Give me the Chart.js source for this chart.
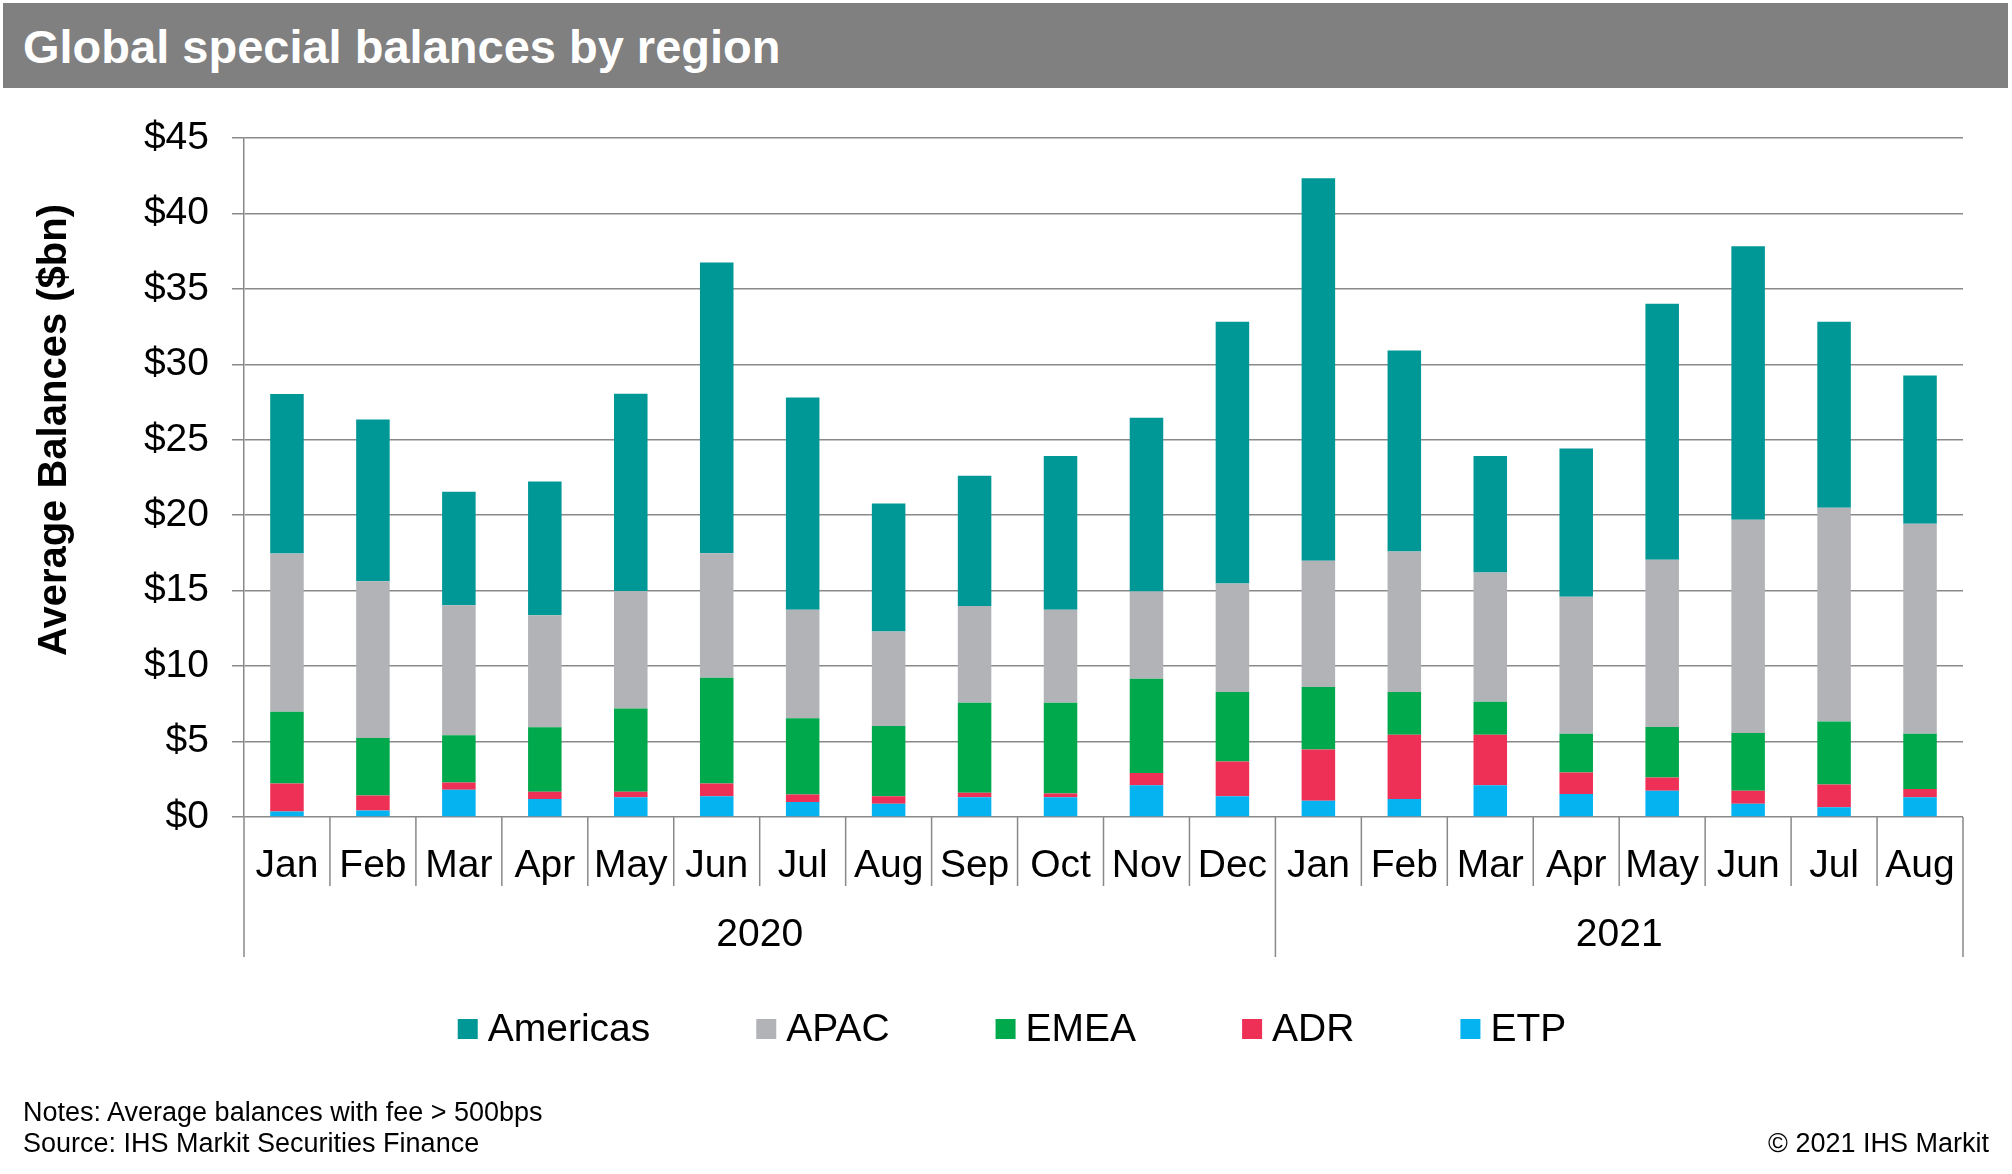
<!DOCTYPE html>
<html>
<head>
<meta charset="utf-8">
<script src="https://cdn.jsdelivr.net/npm/chart.js@4.4.0/dist/chart.umd.min.js"></script>
<style>
  body { margin: 0; background: #fff; font-family: "Liberation Sans", Arial, sans-serif; }
  #wrap { position: relative; width: 2012px; height: 1174px; overflow: hidden; }
  #title { position: absolute; left: 3px; top: 3px; width: 2005px; height: 85px; background: #808080;
           color: #fff; font-weight: bold; font-size: 47px; line-height: 88px; padding-left: 20px; box-sizing: border-box; }
  canvas { position: absolute; left: 0; top: 0; }
  .note { position: absolute; font-size: 27px; color: #000; white-space: nowrap; line-height: 31px; }
</style>
</head>
<body>
<div id="wrap">
  <canvas id="chart" width="2012" height="1174"></canvas>
  <div id="title">Global special balances by region</div>
  <div class="note" style="left:23px; top:1097px;">Notes: Average balances with fee &gt; 500bps</div>
  <div class="note" style="left:23px; top:1128px;">Source: IHS Markit Securities Finance</div>
  <div class="note" style="right:23px; top:1128px;">© 2021 IHS Markit</div>
</div>
<script>
// categories
const months = ['Jan', 'Feb', 'Mar', 'Apr', 'May', 'Jun', 'Jul', 'Aug', 'Sep', 'Oct', 'Nov', 'Dec',
                'Jan', 'Feb', 'Mar', 'Apr', 'May', 'Jun', 'Jul', 'Aug'];
const years = ['2020', '2020', '2020', '2020', '2020', '2020', '2020', '2020', '2020', '2020', '2020', '2020',
               '2021', '2021', '2021', '2021', '2021', '2021', '2021', '2021'];

// series values ($bn)
const etp      = [0.37, 0.43, 1.80, 1.19, 1.31, 1.37, 1.00, 0.88, 1.31, 1.31, 2.10, 1.37, 1.07, 1.19, 2.10, 1.52, 1.74, 0.88, 0.64, 1.31];
const adr      = [1.85, 1.00, 0.48, 0.48, 0.36, 0.85, 0.49, 0.49, 0.30, 0.24, 0.82, 2.31, 3.41, 4.26, 3.35, 1.43, 0.88, 0.86, 1.52, 0.55];
const emea     = [4.75, 3.81, 3.14, 4.27, 5.52, 7.01, 5.06, 4.66, 5.97, 6.03, 6.25, 4.60, 4.14, 2.83, 2.19, 2.56, 3.35, 3.83, 4.17, 3.65];
const apac     = [10.50, 10.38, 8.62, 7.43, 7.79, 8.25, 7.18, 6.27, 6.40, 6.15, 5.78, 7.19, 8.37, 9.32, 8.56, 9.08, 11.08, 14.13, 14.16, 13.92];
const americas = [10.57, 10.72, 7.52, 8.86, 13.07, 19.27, 14.07, 8.47, 8.64, 10.20, 11.51, 17.36, 25.34, 13.31, 7.73, 9.83, 16.96, 18.12, 12.34, 9.83];

// axis
const yMin = 0, yMax = 45, yStep = 5;

const FONT = '"Liberation Sans", Arial, sans-serif';
const GRID = '#898989';

// stacked bottom-up: ETP, ADR, EMEA, APAC, Americas
const series = [
  { label: 'ETP', data: etp, color: '#05B3F0' },
  { label: 'ADR', data: adr, color: '#EE3056' },
  { label: 'EMEA', data: emea, color: '#00A94C' },
  { label: 'APAC', data: apac, color: '#B2B3B6' },
  { label: 'Americas', data: americas, color: '#009797' }
];

const extras = {
  id: 'extras',
  afterDraw(chart) {
    const { ctx, chartArea } = chart;
    const x = chart.scales.x;
    const n = months.length;
    const half = (x.getPixelForValue(1) - x.getPixelForValue(0)) / 2;
    ctx.save();

    // category separators below the axis
    ctx.strokeStyle = GRID;
    ctx.lineWidth = 1.5;
    for (let i = 0; i <= n; i++) {
      const px = i < n ? x.getPixelForValue(i) - half : x.getPixelForValue(n - 1) + half;
      const long = i === 0 || i === n || years[i] !== years[i - 1];
      ctx.beginPath();
      ctx.moveTo(px, chartArea.bottom);
      ctx.lineTo(px, chartArea.bottom + (long ? 140 : 69));
      ctx.stroke();
    }

    // year labels
    ctx.fillStyle = '#000';
    ctx.font = '39px ' + FONT;
    ctx.textAlign = 'center';
    ctx.textBaseline = 'middle';
    [...new Set(years)].forEach(yr => {
      const first = years.indexOf(yr), last = years.lastIndexOf(yr);
      const cx = (x.getPixelForValue(first) - half + x.getPixelForValue(last) + half) / 2;
      ctx.fillText(yr, cx, 935);
    });

    // y axis title
    ctx.save();
    ctx.translate(55, 430);
    ctx.rotate(-Math.PI / 2);
    ctx.font = 'bold 40px ' + FONT;
    ctx.fillText('Average Balances ($bn)', 0, 0);
    ctx.restore();

    // legend (Americas first)
    ctx.font = '39px ' + FONT;
    ctx.textAlign = 'left';
    const items = series.slice().reverse();
    const box = 20, gapText = 10, gapItem = 106;
    const widths = items.map(s => box + gapText + ctx.measureText(s.label).width);
    const total = widths.reduce((a, b) => a + b, 0) + gapItem * (items.length - 1);
    let lx = 1012 - total / 2;
    const ly = 1029;
    items.forEach((s, i) => {
      ctx.fillStyle = s.color;
      ctx.fillRect(lx, ly - box / 2, box, box);
      ctx.fillStyle = '#000';
      ctx.fillText(s.label, lx + box + gapText, ly + 1);
      lx += widths[i] + gapItem;
    });

    ctx.restore();
  }
};

new Chart(document.getElementById('chart'), {
  type: 'bar',
  data: {
    labels: months,
    datasets: series.map(s => ({
      label: s.label,
      data: s.data,
      backgroundColor: s.color,
      borderWidth: 0,
      barPercentage: 0.39,
      categoryPercentage: 1
    }))
  },
  options: {
    responsive: false,
    animation: false,
    devicePixelRatio: 1,
    layout: { padding: { top: 138, right: 49, left: 0, bottom: 0 } },
    plugins: { legend: { display: false }, tooltip: { enabled: false } },
    scales: {
      x: {
        stacked: true,
        grid: { display: false, drawTicks: false },
        border: { display: false },
        ticks: { color: '#000', font: { family: FONT, size: 39 }, padding: 26, maxRotation: 0, autoSkip: false },
        afterFit(scale) { scale.height = 357; }
      },
      y: {
        stacked: true,
        min: yMin,
        max: yMax,
        grid: { color: GRID, lineWidth: 1.5, tickLength: 12 },
        border: { display: true, color: GRID, width: 1.5 },
        ticks: {
          stepSize: yStep,
          color: '#000',
          font: { family: FONT, size: 39 },
          padding: 23,
          callback: v => '$' + v
        },
        afterFit(scale) { scale.width = 244; }
      }
    }
  },
  plugins: [extras]
});
</script>
</body>
</html>
